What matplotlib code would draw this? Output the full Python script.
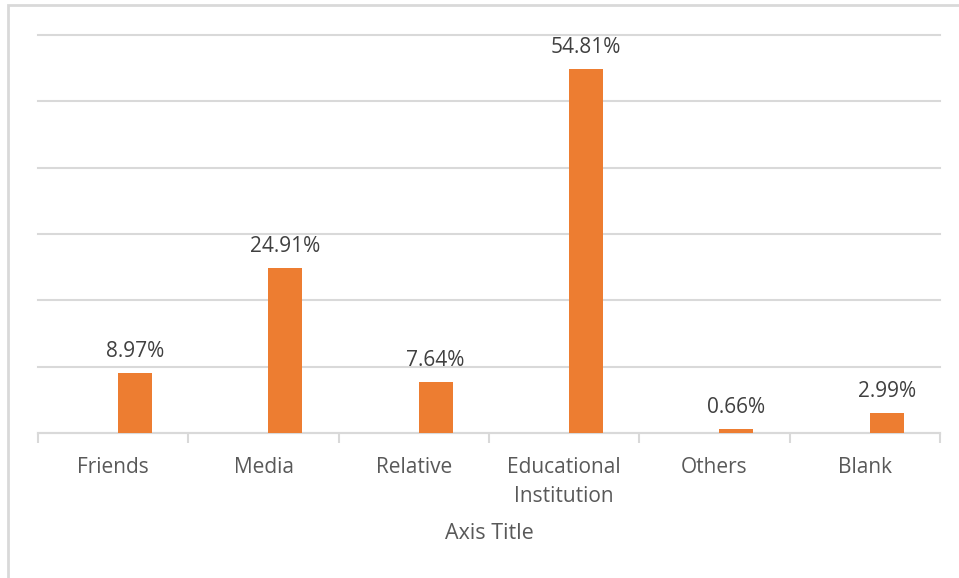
import matplotlib.pyplot as plt
from matplotlib.patches import Rectangle

# Source categories and shares (%)
categories = ['Friends', 'Media', 'Relative', 'Educational\nInstitution', 'Others', 'Blank']
shares = [8.97, 24.91, 7.64, 54.81, 0.66, 2.99]
value_labels = ['8.97%', '24.91%', '7.64%', '54.81%', '0.66%', '2.99%']

plt.rcParams['font.family'] = ['Open Sans', 'DejaVu Sans']

fig = plt.figure(figsize=(9.59, 5.78), dpi=100)
W, H = 959, 578
ax = fig.add_axes([38 / W, 1 - 433 / H, (940 - 38) / W, (433 - 35) / H])

x = list(range(len(categories)))
# bars sit right of the category centre (first slot of a two-series cluster)
bar_pos = [i + 0.145 for i in x]
bars = ax.bar(bar_pos, shares, width=0.225, color='#ED7D31', zorder=3)

for b, lab in zip(bars, value_labels):
    ax.annotate(lab, (b.get_x() + b.get_width() / 2, b.get_height()),
                textcoords='offset points', xytext=(0, 8), ha='center', va='bottom',
                fontsize=15, color='#404040')

ax.set_xlim(-0.5, len(categories) - 0.5)
ax.set_ylim(0, 60)
ax.set_yticks(range(0, 61, 10))
ax.yaxis.grid(True, color='#d9d9d9', linewidth=1.5, zorder=0)
ax.tick_params(axis='y', length=0, labelleft=False)
for gl in ax.get_ygridlines():
    gl.set_clip_on(False)

# category labels between boundary ticks
ax.set_xticks([i - 0.5 for i in range(len(categories) + 1)])
ax.set_xticklabels([])
ax.set_xticks(x, minor=True)
ax.set_xticklabels(categories, minor=True, fontsize=15, color='#595959', linespacing=1.5)
ax.tick_params(axis='x', which='major', length=7, width=1.5, color='#d9d9d9')
ax.tick_params(axis='x', which='minor', length=0, pad=17)

for side in ['top', 'right', 'left']:
    ax.spines[side].set_visible(False)
ax.spines['bottom'].set_color('#d9d9d9')
ax.spines['bottom'].set_linewidth(1.5)

ax.set_xlabel('Axis Title', fontsize=15.5, color='#595959', labelpad=12)

# chart area outline
fig.patches.append(Rectangle((8 / W, -0.1), 1.2, 1 - 5 / H + 0.1, transform=fig.transFigure,
                             fill=False, edgecolor='#d9d9d9', linewidth=2))

fig.savefig('out.png', dpi=100, facecolor='white')
